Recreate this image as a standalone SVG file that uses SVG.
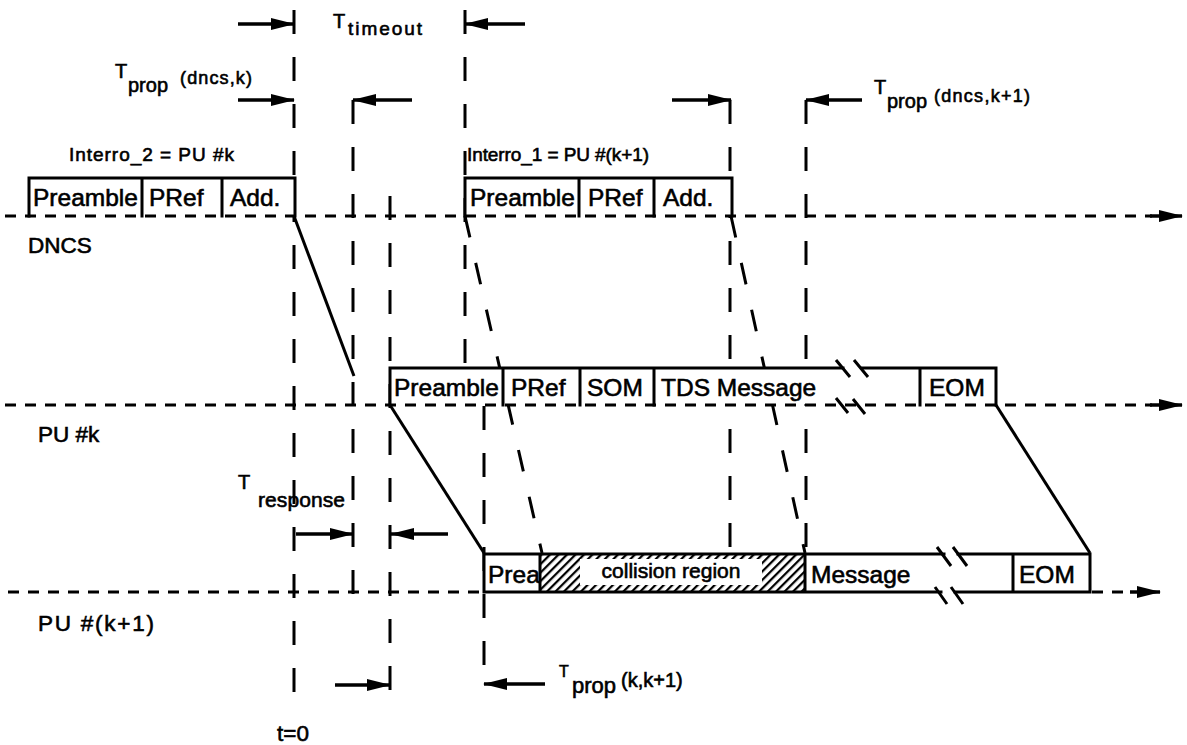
<svg xmlns="http://www.w3.org/2000/svg" width="1187" height="745" viewBox="0 0 1187 745">
<defs>
<marker id="ah" markerUnits="userSpaceOnUse" markerWidth="24" markerHeight="12" viewBox="0 0 24 12" refX="23" refY="6" orient="auto">
<path d="M0,0 L24,6 L0,12 z" fill="#000"/>
</marker>
<pattern id="hatch" width="6" height="6" patternUnits="userSpaceOnUse" patternTransform="rotate(45)">
<rect width="6" height="6" fill="#fff"/>
<line x1="1" y1="0" x2="1" y2="6" stroke="#000" stroke-width="2.5"/>
</pattern>
<style>
.vd{stroke:#000;stroke-width:3;stroke-dasharray:24 23;fill:none}
.hd{stroke:#000;stroke-width:3;stroke-dasharray:11 9;fill:none}
.sd{stroke:#000;stroke-width:3;stroke-dasharray:22 26;fill:none}
.s{stroke:#000;stroke-width:3;fill:none}
.ol{stroke:#000;stroke-width:3;fill:none;stroke-linecap:square}
.bg{fill:#fff;stroke:none}
.arr{stroke:#000;stroke-width:3.5;fill:none;marker-end:url(#ah)}
text{font-family:"Liberation Sans",Arial,Helvetica,sans-serif;fill:#000;stroke:#000;stroke-width:0.6}
.bt{font-size:24.5px}
.ax{font-size:22.5px}
.lb{font-size:19px}
.tt{font-size:20px}
.sub{font-size:20px}
</style>
</defs>
<rect width="1187" height="745" fill="#fff"/>

<g id="timelines">
<path class="vd" d="M294,10 V705"/>
<path class="vd" d="M353,100 V600"/>
<path class="vd" d="M390,690 V180"/>
<path class="vd" d="M465,10 V372"/>
<path class="vd" d="M484,665 V405"/>
<path class="vd" d="M730,100 V555"/>
<path class="vd" d="M806,100 V555"/>
</g>

<g id="connectors">
<path class="sd" d="M465,216 L542,553"/>
<path class="sd" d="M731,216 L805,553"/>
<path class="s" d="M294,216 L354,376"/>
<path class="s" d="M390,405 L484,553"/>
<path class="s" d="M996,405 L1090,553"/>
</g>

<g id="frame-dncs-interro2">
<rect class="bg" x="29" y="178" width="266" height="37"/>
<path class="ol" d="M29,216 V178 H295 V216 M142,178 V216 M222,178 V216"/>
<text class="bt" x="33" y="206">Preamble</text>
<text class="bt" x="149" y="206">PRef</text>
<text class="bt" x="230" y="206">Add.</text>
</g>

<g id="frame-dncs-interro1">
<rect class="bg" x="465" y="178" width="267" height="37"/>
<path class="ol" d="M465,216 V178 H732 V216 M579,178 V216 M654,178 V216"/>
<text class="bt" x="470" y="206">Preamble</text>
<text class="bt" x="588" y="206">PRef</text>
<text class="bt" x="663" y="206">Add.</text>
</g>

<g id="frame-pu-k">
<rect class="bg" x="390" y="368" width="606" height="36"/>
<path class="ol" d="M390,405 V368 H843 M862,368 H996 V405 M503,368 V405 M580,368 V405 M654,368 V405 M920,368 V405"/>
<path class="s" d="M836,360 L850,377 M854,360 L868,377 M836,398 L848,413 M853,399 L865,414"/>
<text class="bt" x="394" y="396">Preamble</text>
<text class="bt" x="511" y="396">PRef</text>
<text class="bt" x="587" y="396">SOM</text>
<text class="bt" x="661" y="396">TDS Message</text>
<text class="bt" x="929" y="396">EOM</text>
</g>

<g id="frame-pu-k1">
<rect class="bg" x="484" y="554" width="606" height="38"/>
<rect x="541" y="555" width="264" height="36" fill="url(#hatch)"/>
<rect class="bg" x="580" y="559" width="182" height="26"/>
<path class="ol" d="M484,592 V554 H944 M958,554 H1090 V592 M484,592 H941 M955,592 H1090 M540,554 V592 M805,554 V592 M1013,554 V592"/>
<path class="s" d="M937,547 L951,566 M953,547 L967,566 M935,587 L947,604 M951,587 L963,604"/>
<text class="bt" x="488" y="583">Prea</text>
<text x="671" y="578" font-size="21" text-anchor="middle">collision region</text>
<text class="bt" x="811" y="583">Message</text>
<text class="bt" x="1019" y="583">EOM</text>
</g>

<g id="axes">
<path class="hd" d="M5,216 H1152"/>
<path class="arr" d="M1150,216 H1182"/>
<path class="hd" d="M5,405 H1152"/>
<path class="arr" d="M1150,405 H1182"/>
<path class="hd" d="M8,592 H484 M1092,592 H1132"/>
<path class="arr" d="M1130,592 H1160"/>
</g>

<g id="interval-arrows">
<path class="arr" d="M238,24 H294"/>
<path class="arr" d="M525,24 H465"/>
<path class="arr" d="M238,100 H294"/>
<path class="arr" d="M412,100 H353"/>
<path class="arr" d="M672,100 H731"/>
<path class="arr" d="M862,100 H806"/>
<path class="arr" d="M296,534 H353"/>
<path class="arr" d="M448,534 H391"/>
<path class="arr" d="M335,685 H390"/>
<path class="arr" d="M545,684 H484"/>
</g>

<g id="label-dncs"><text class="ax" x="28" y="253">DNCS</text></g>
<g id="label-pu-k"><text class="ax" x="38" y="442">PU #k</text></g>
<g id="label-pu-k1"><text class="ax" x="38" y="631" textLength="116">PU #(k+1)</text></g>

<g id="label-interro2"><text class="lb" x="69" y="161" textLength="165">Interro_2 = PU #k</text></g>
<g id="label-interro1"><text class="lb" x="467" y="161" textLength="182">Interro_1 = PU #(k+1)</text></g>

<g id="label-timeout">
<text class="tt" x="333" y="28">T</text>
<text x="348" y="35" font-size="19" textLength="74">timeout</text>
</g>
<g id="label-tprop-dncs-k">
<text class="tt" x="115" y="78">T</text>
<text class="sub" x="128" y="92">prop</text>
<text x="180" y="84" font-size="18" textLength="72">(dncs,k)</text>
</g>
<g id="label-tprop-dncs-k1">
<text class="tt" x="874" y="94">T</text>
<text class="sub" x="887" y="108">prop</text>
<text x="934" y="102" font-size="18" textLength="96">(dncs,k+1)</text>
</g>
<g id="label-tresponse">
<text class="tt" x="238" y="489">T</text>
<text x="258" y="507" font-size="21" textLength="87">response</text>
</g>
<g id="label-tprop-k-k1">
<text x="559" y="677" font-size="16">T</text>
<text x="572" y="693" font-size="22">prop</text>
<text x="621" y="687" font-size="20">(k,k+1)</text>
</g>
<g id="label-t0"><text class="ax" x="293" y="741" text-anchor="middle">t=0</text></g>
</svg>
